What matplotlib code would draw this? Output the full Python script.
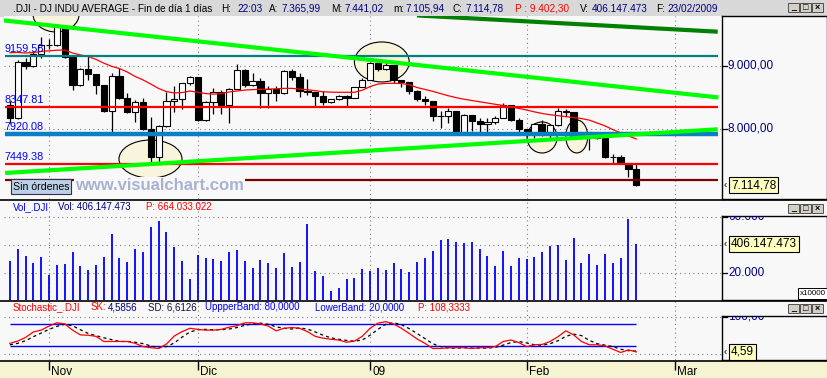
import numpy as np
import matplotlib.pyplot as plt
import matplotlib.transforms as mtransforms
from matplotlib.patches import Ellipse, Rectangle
from matplotlib.lines import Line2D

#-----------------------
# Data: .DJI daily bars, 27/10/2008 .. 23/02/2009
#-----------------------
opens = [8378, 8175, 9065, 8991, 9181, 9325, 9320, 9625, 9139, 8696,
         8944, 8871, 8694, 8283, 8835, 8497, 8274, 8425, 7997, 7552,
         8046, 8443, 8479, 8727, 8829, 8149, 8419, 8592, 8376, 8635,
         8934, 8691, 8761, 8565, 8630, 8565, 8924, 8824, 8605, 8579,
         8520, 8419, 8468, 8516, 8484, 8668, 8776, 9035, 8953, 9015,
         8770, 8742, 8599, 8474, 8449, 8200, 8212, 8281, 7949, 8228,
         8123, 8078, 8116, 8175, 8375, 8149, 8001, 7937, 8078, 7957,
         8063, 8281, 8271, 7889, 7940, 7933, 7850, 7553, 7556, 7466,
         7366]
highs = [8440, 9085, 9120, 9230, 9450, 9420, 9654, 9630, 9170, 8960,
         9159, 8871, 8694, 8880, 8960, 8563, 8458, 8485, 8195, 8063,
         8590, 8685, 8730, 8840, 8829, 8442, 8653, 8620, 8640, 9027,
         8940, 8890, 8800, 8680, 8680, 8935, 8940, 8880, 8784, 8590,
         8600, 8475, 8540, 8540, 8670, 8800, 9064, 9040, 9090, 9015,
         8775, 8750, 8615, 8521, 8449, 8284, 8326, 8284, 8230, 8228,
         8179, 8168, 8200, 8405, 8376, 8170, 8005, 8100, 8142, 8070,
         8326, 8310, 8275, 7960, 7945, 7950, 7850, 7605, 7589, 7470,
         7441]
lows = [8100, 8150, 8950, 8985, 9120, 9265, 9318, 9116, 8616, 8680,
        8774, 8548, 8262, 7958, 8480, 8247, 8105, 7990, 7484, 7449,
        8030, 8274, 8310, 8700, 8130, 8130, 8232, 8237, 8100, 8630,
        8670, 8680, 8337, 8337, 8447, 8560, 8774, 8510, 8537, 8353,
        8379, 8410, 8460, 8353, 8484, 8660, 8770, 8920, 8932, 8721,
        8658, 8560, 8445, 8379, 8131, 8010, 8100, 7935, 7940, 7973,
        7905, 7931, 8080, 8170, 8130, 7942, 7868, 7852, 7889, 7836,
        8050, 8205, 7870, 7836, 7668, 7840, 7535, 7468, 7450, 7236,
        7106]
closes = [8175, 9065, 8991, 9181, 9325, 9320, 9625, 9139, 8696, 8944,
          8871, 8694, 8283, 8835, 8497, 8274, 8425, 7997, 7552, 8046,
          8443, 8479, 8727, 8829, 8149, 8419, 8592, 8376, 8635, 8934,
          8691, 8761, 8565, 8630, 8565, 8924, 8824, 8605, 8579, 8520,
          8419, 8468, 8516, 8484, 8668, 8776, 9035, 8953, 9015, 8770,
          8742, 8599, 8474, 8449, 8200, 8212, 8281, 7949, 8228, 8123,
          8078, 8116, 8175, 8375, 8149, 8001, 7937, 8078, 7957, 8063,
          8281, 8271, 7889, 7940, 7933, 7850, 7553, 7556, 7466, 7366,
          7115]
# red moving average
mavg = [9205, 9210, 9200, 9208, 9225, 9235, 9245, 9248, 9200, 9170,
        9145, 9100, 9040, 8990, 8955, 8900, 8830, 8775, 8710, 8640,
        8590, 8570, 8575, 8600, 8580, 8560, 8550, 8560, 8585, 8600,
        8615, 8622, 8626, 8630, 8635, 8642, 8642, 8630, 8620, 8605,
        8588, 8582, 8580, 8580, 8580, 8612, 8670, 8710, 8720, 8722,
        8718, 8700, 8655, 8625, 8595, 8560, 8525, 8495, 8470, 8450,
        8430, 8410, 8390, 8370, 8350, 8325, 8300, 8270, 8245, 8225,
        8210, 8195, 8180, 8165, 8140, 8095, 8050, 7990, 7940, 7890,
        7842]
# volume, x10000 (thousands)
volume = [28.7, 37.3, 32.3, 27.3, 31.6, 18.7, 25.9, 26.6, 35.2, 25.1,
          22.3, 25.9, 31.6, 48.1, 30.9, 28.0, 37.3, 35.2, 53.1, 57.4,
          49.6, 38.3, 28.7, 15.8, 32.8, 30.9, 30.2, 28.7, 35.2, 36.6,
          28.7, 23.7, 29.4, 27.3, 23.7, 34.5, 24.4, 28.0, 55.3, 21.5,
          18.0, 7.2, 9.3, 15.8, 16.5, 23.0, 21.5, 23.7, 22.3, 27.3,
          23.0, 20.8, 28.0, 30.9, 35.9, 43.8, 44.5, 42.4, 41.7, 42.4,
          37.3, 32.3, 25.1, 35.9, 25.1, 30.9, 30.2, 31.6, 35.2, 39.5,
          40.2, 29.4, 45.2, 27.3, 33.8, 25.9, 33.8, 27.3, 30.9, 58.9,
          40.6]
stoch_k = [28, 34, 44, 59, 64, 75, 84, 81, 64, 51,
           50, 47, 33, 33, 33, 33, 28, 19, 16, 14,
           26, 48, 60, 69, 66, 64, 64, 66, 72, 76,
           84, 84, 81, 75, 62, 69, 71, 69, 60, 47,
           42, 39, 37, 31, 34, 47, 69, 83, 87, 81,
           69, 55, 40, 28, 14, 14, 16, 16, 16, 14,
           16, 16, 19, 33, 37, 30, 19, 24, 25, 33,
           46, 62, 51, 33, 24, 24, 21, 12, 3, 10,
           4.59]
stoch_d = [24, 28, 35, 46, 56, 66, 74, 80, 76, 65,
           55, 49, 43, 38, 33, 33, 31, 27, 21, 16,
           19, 29, 45, 59, 65, 66, 65, 65, 67, 71,
           77, 81, 83, 80, 73, 69, 67, 70, 67, 59,
           50, 43, 39, 36, 34, 37, 50, 66, 80, 84,
           79, 68, 55, 41, 27, 19, 15, 15, 16, 15,
           15, 15, 17, 23, 30, 33, 29, 24, 23, 27,
           35, 47, 53, 49, 36, 27, 23, 19, 12, 8,
           6.81]

month_idx = [5, 24, 46, 66, 85]
month_lbl = ["Nov", "Dic", "09", "Feb", "Mar"]

# drawing tools on the chart
levels = [9159.58, 8347.81, 7920.08, 7449.38]
level_colors = ["#008080", "#ff0000", "#0a80c4", "#ff0000"]
level_widths = [1.6, 1.6, 3.2, 1.6]
dark_level = 7195
trend_up = ([-1.3, 90.5], [9722, 8498])      # bright green, falling
trend_low = ([-0.6, 90.4], [7305, 7995])     # bright green, rising
trend_dark = ([52.0, 90.4], [9794, 9537])    # dark green
ell_x = [5.9, 17.96, 47.5, 67.97, 72.4]
ell_y = [9817, 7526, 9059, 7866, 7882]
ell_w = [5.9, 8.05, 7.0, 3.83, 2.8]
ell_h = [569, 600, 632, 490, 521]

last_close = 7114.78
last_vol = 406147473
sk_last, sd_last = 4.5856, 6.6126

#-----------------------
# Figure layout (pixel based)
#-----------------------
W, H = 828, 378
BG = "#f8f8f8"
NAVY = "#000080"
plt.rcParams["font.family"] = ["Liberation Sans", "DejaVu Sans"]

fig = plt.figure(figsize=(W / 100, H / 100), dpi=100)
fig.patch.set_facecolor(BG)


def fx(x):
    return x / W


def fy(y):
    return 1 - y / H


def panel(x0, y0, x1, y1, color=BG, border=False):
    ax = fig.add_axes([fx(x0), fy(y1), (x1 - x0) / W, (y1 - y0) / H])
    ax.set_facecolor(color)
    ax.set_xticks([])
    ax.set_yticks([])
    for s in ax.spines.values():
        s.set_visible(border)
        s.set_color("black")
        s.set_linewidth(1)
    return ax


def euro(v, dec):
    s = f"{v:,.{dec}f}"
    return s.replace(",", "X").replace(".", ",").replace("X", ".")


def buttons(y):
    for k, g in enumerate(["_", "□", "×"]):
        x = 788 + 12 * k
        fig.add_artist(Rectangle((fx(x), fy(y + 9)), 11 / W, 9 / H,
                                 transform=fig.transFigure, facecolor="#d4d0c8",
                                 edgecolor="#505050", lw=0.7, zorder=5))
        fig.text(fx(x + 5.5), fy(y + 4.5), g, fontsize=6.5, ha="center",
                 va="center", zorder=6, fontweight="bold")


def tag(ax, y, text):
    ax.text(1.5, y, "‹", fontsize=7, va="center", ha="left")
    ax.text(9, y, text, fontsize=8.5, va="center", ha="left", zorder=5,
            bbox=dict(boxstyle="square,pad=0.18", fc="#ffffc0", ec="black", lw=0.8))


XLIM = (-0.75, 90.95)
idx = np.arange(len(closes))
o, h, l, c = map(np.array, (opens, highs, lows, closes))

# title bar
fig.add_artist(Rectangle((0, fy(16)), 1, 16 / H, transform=fig.transFigure,
                         color="#d8d8d8", zorder=0))
title = [(13, ".DJI - DJ INDU AVERAGE - Fin de día 1 días", "black"),
         (221, "H:", "black"), (237, "22:03", NAVY),
         (269, "A:", "black"), (282, "7.365,99", NAVY),
         (331, "M:", "black"), (345, "7.441,02", NAVY),
         (393, "m:", "black"), (406, "7.105,94", NAVY),
         (453, "C:", "black"), (466, euro(last_close, 2), NAVY),
         (515, "P : 9.402,30", "red"),
         (580, "V:", "black"), (592, euro(last_vol, 0), NAVY),
         (656, "F:", "black"), (667, "23/02/2009", NAVY)]
for x, s, col in title:
    fig.text(fx(x), fy(8.5), s, color=col, fontsize=7.2, va="center")
buttons(3)

#-----------------------
# Price panel
#-----------------------
ax_p = panel(4, 16, 722, 199)
ax_p.set_xlim(XLIM)
ax_p.set_ylim(6894, 9785)
dots = (0, (1, 3))
ax_p.vlines(month_idx, 6894, 9785, colors="#808080", linestyles=dots, lw=0.8, zorder=0.5)
ax_p.hlines([8000, 9000], *XLIM, colors="#808080", linestyles=dots, lw=0.8, zorder=0.5)

for ex, ey, ew, eh in zip(ell_x, ell_y, ell_w, ell_h):
    ax_p.add_patch(Ellipse((ex, ey), ew, eh, facecolor="#f8f5dc",
                           edgecolor="black", lw=0.8, zorder=1))

# candles
up = c >= o
body_lo = np.minimum(o, c)
body_h = np.maximum(np.abs(c - o), 12)
ax_p.vlines(idx, l, h, colors="black", lw=0.9, zorder=2)
ax_p.bar(idx, body_h, 0.8, bottom=body_lo, color=np.where(up, "white", "black"),
         edgecolor="black", lw=0.8, zorder=2.2)
ax_p.plot(idx, mavg, color="#ff0000", lw=0.9, zorder=2.5)

# drawing tools
x0, x1 = -0.62, 90.4
ax_p.hlines(7905, x0, x1, colors="#0000ff", lw=1.2, zorder=2.8)
for lv, col, lw in zip(levels, level_colors, level_widths):
    ax_p.hlines(lv, x0, x1, colors=col, lw=lw, zorder=3)
ax_p.hlines(dark_level, x0, x1, colors="#800000", lw=1.6, zorder=3)
ax_p.plot(*trend_up, color="#00ff00", lw=3.0, zorder=3.2, solid_capstyle="butt")
ax_p.plot(*trend_low, color="#00ff00", lw=3.0, zorder=3.2, solid_capstyle="butt")
ax_p.plot(*trend_dark, color="#008000", lw=3.0, zorder=3.2, solid_capstyle="butt")

lab_tr = mtransforms.offset_copy(ax_p.get_yaxis_transform(), fig=fig, x=1, y=4, units="dots")
for lv in levels:
    ax_p.text(0, lv, f"{lv:.2f}", transform=lab_tr, color="#0000ff", fontsize=7.8,
              va="baseline", ha="left", zorder=4)

ax_p.text((75 - 4) / 718, (199 - 185.5) / 183, "www.visualchart.com", transform=ax_p.transAxes,
          fontsize=12, fontweight="bold", color="#a8b2d2", va="center", ha="left", zorder=5,
          bbox=dict(boxstyle="square,pad=0.05", fc=BG, ec="none"))
ax_p.text((41 - 4) / 718, (199 - 186.5) / 183, "Sin órdenes", transform=ax_p.transAxes,
          fontsize=7.6, color="black", va="center", ha="center", zorder=5,
          bbox=dict(boxstyle="square,pad=0.2", fc="#bcd0e8", ec="#303050", lw=0.8))

ax_pr = panel(722, 16, 827, 199, border=True)
ax_pr.set_xlim(0, 105)
ax_pr.set_ylim(6894, 9785)
for v in [9000, 8000]:
    ax_pr.plot([0, 5], [v, v], color="black", lw=0.9)
    ax_pr.text(6, v, euro(v, 2), color=NAVY, fontsize=8.5, va="center", ha="left")
tag(ax_pr, last_close, euro(last_close, 2))

#-----------------------
# Volume panel
#-----------------------
ax_v = panel(4, 201, 722, 300)
ax_v.set_xlim(XLIM)
ax_v.set_ylim(0.5, 71.6)
ax_v.vlines(month_idx, 0, 71.6, colors="#808080", linestyles=dots, lw=0.8)
ax_v.hlines([20, 40, 60], *XLIM, colors="#808080", linestyles=dots, lw=0.8)
ax_v.vlines(idx, 0, volume, colors="#0000ff", lw=1.3, zorder=2)

vol_title = [(13, "Vol_.DJI", "#0000ff"), (58, "Vol: " + euro(last_vol, 0), NAVY),
             (146, "P: 664.033.022", "red")]
for x, s, col in vol_title:
    fig.text(fx(x), fy(207.5), s, color=col, fontsize=7.0, va="center")
buttons(204)

ax_vr = panel(722, 216, 827, 300, border=True)
ax_vr.set_xlim(0, 105)
ax_vr.set_ylim(0.5, 60.8)
for v in [60, 20]:
    ax_vr.plot([0, 5], [v, v], color="black", lw=0.9)
    ax_vr.text(6, v, euro(v * 1000, 0), color=NAVY, fontsize=8.5, va="center",
               ha="left", clip_on=True)
tag(ax_vr, last_vol / 1e7, euro(last_vol, 0))
ax_vr.text(104, 5.2, "x10000", fontsize=5.8, va="center", ha="right",
           bbox=dict(boxstyle="square,pad=0.2", fc="white", ec="black", lw=0.7))

#-----------------------
# Stochastic panel
#-----------------------
ax_s = panel(4, 301, 722, 360)
ax_s.set_xlim(XLIM)
ax_s.set_ylim(-17.5, 143.4)
ax_s.vlines(month_idx, -17.5, 143.4, colors="#808080", linestyles=dots, lw=0.8)
ax_s.hlines([0, 100], *XLIM, colors="#808080", linestyles=dots, lw=0.8)
ax_s.hlines([80, 20], idx[0], idx[-1], colors="#0000ff", lw=1.0, zorder=2)
ax_s.plot(idx, stoch_d, color="black", lw=0.9, ls=(0, (2.5, 2.5)), zorder=3)
ax_s.plot(idx, stoch_k, color="#ff0000", lw=0.9, zorder=3.5)

st_title = [(13, "Stochastic_.DJI", "red"), (91, "SK:", "red"),
            (108, euro(sk_last, 4), NAVY), (148, "SD: " + euro(sd_last, 4), "#101040"),
            (205, "UppperBand: 80,0000", "#0000ff"), (315, "LowerBand: 20,0000", "#0000ff"),
            (418, "P: 108,3333", "red")]
for x, s, col in st_title:
    fig.text(fx(x), fy(307), s, color=col, fontsize=7.0, va="center")
buttons(304)

ax_sr = panel(722, 316, 827, 360, border=True)
ax_sr.set_xlim(0, 105)
ax_sr.set_ylim(-17.5, 102.5)
ax_sr.plot([0, 5], [100, 100], color="black", lw=0.9)
ax_sr.text(6, 100, "100,00", color=NAVY, fontsize=8.5, va="center", ha="left", clip_on=True)
tag(ax_sr, sk_last, euro(sk_last, 2))

#-----------------------
# Date strip
#-----------------------
ax_d = panel(0, 361, 828, 378, color="#f5f3d2")
ax_d.set_xlim(-1.258, 104.49)
ax_d.set_ylim(0, 1)
ax_d.vlines(month_idx, 0.45, 1, colors="black", lw=1.0)
lbl_tr = mtransforms.offset_copy(ax_d.transData, fig=fig, x=2, y=0, units="dots")
for m, s in zip(month_idx, month_lbl):
    ax_d.text(m, 0.33, s, transform=lbl_tr, fontsize=8.5, va="center", ha="left")

# panel separators
for y in [200, 300.5, 360.5]:
    fig.add_artist(Line2D([0, 1], [fy(y), fy(y)], transform=fig.transFigure,
                          color="black", lw=1.2, zorder=6))

fig.savefig("out.png", dpi=100, facecolor=fig.get_facecolor())
